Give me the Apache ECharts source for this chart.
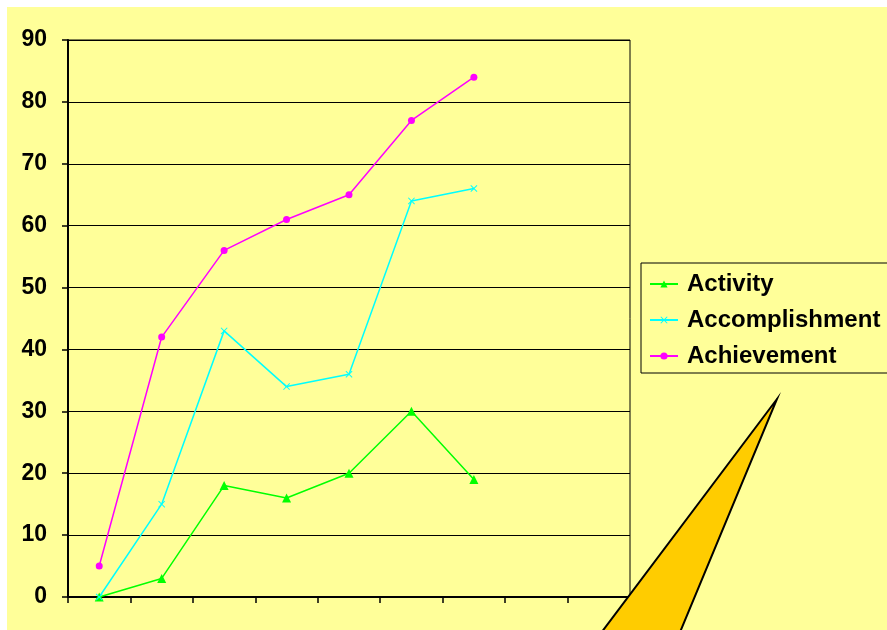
<!DOCTYPE html>
<html>
<head>
<meta charset="utf-8">
<script src="https://cdn.jsdelivr.net/npm/echarts@6/dist/echarts.min.js"></script>
<style>
  html, body { margin: 0; padding: 0; background: #fff; }
  #chart {
    width: 887px; height: 630px;
    background: linear-gradient(#FFFF99, #FFFF99) 7px 7px / 880px 623px no-repeat, #fff;
  }
</style>
</head>
<body>
<div id="chart"></div>
<script>
// Nine time slots on the category axis; only the first seven have scores so far
const categories = ['1', '2', '3', '4', '5', '6', '7', '8', '9'];
const activity = [0, 3, 18, 16, 20, 30, 19];
const accomplishment = [0, 15, 43, 34, 36, 64, 66];
const achievement = [5, 42, 56, 61, 65, 77, 84];
const yTicks = { min: 0, max: 90, interval: 10 };

const crossPath = 'path://M0,1L1,0L5,4L9,0L10,1L6,5L10,9L9,10L5,6L1,10L0,9L4,5Z';
const font = 'Liberation Sans, Arial, sans-serif';

const chart = echarts.init(document.getElementById('chart'), null, { renderer: 'canvas' });

function lineSeries(name, data, color, symbol, size) {
  return {
    name: name,
    type: 'line',
    data: data,
    symbol: symbol,
    symbolSize: size,
    showAllSymbol: true,
    lineStyle: { color: color, width: 1.5 },
    itemStyle: { color: color },
    emphasis: { disabled: true },
    animation: false
  };
}

chart.setOption({
  backgroundColor: 'transparent',
  animation: false,
  grid: {
    left: 68, right: 257, top: 40, bottom: 33,
    show: true, borderColor: '#000', borderWidth: 1
  },
  xAxis: {
    type: 'category',
    data: categories,
    boundaryGap: true,
    axisLine: { lineStyle: { color: '#000', width: 2 } },
    axisTick: { show: true, length: 6, lineStyle: { color: '#000', width: 1.5 } },
    axisLabel: { show: false },
    splitLine: { show: false }
  },
  yAxis: {
    type: 'value',
    min: yTicks.min, max: yTicks.max, interval: yTicks.interval,
    axisLine: { show: true, lineStyle: { color: '#000', width: 2 } },
    axisTick: { show: true, length: 6, lineStyle: { color: '#000', width: 1.5 } },
    axisLabel: { margin: 21, color: '#000', fontFamily: font, fontWeight: 'bold', fontSize: 23 },
    splitLine: { show: true, lineStyle: { color: '#000', width: 1 } }
  },
  legend: {
    orient: 'vertical',
    left: 641, top: 263,
    padding: [9, 10, 5, 8],
    itemWidth: 28, itemHeight: 9,
    itemGap: 12,
    borderColor: '#000', borderWidth: 1,
    backgroundColor: 'transparent',
    textStyle: { color: '#000', fontFamily: font, fontWeight: 'bold', fontSize: 24, padding: [0, 0, 0, 4] },
    data: ['Activity', 'Accomplishment', 'Achievement']
  },
  series: [
    lineSeries('Activity', activity, '#00FF00', 'triangle', 9),
    lineSeries('Accomplishment', accomplishment, '#00FFFF', crossPath, 7),
    lineSeries('Achievement', achievement, '#FF00FF', 'circle', 7)
  ],
  graphic: [{
    type: 'polygon',
    z: 100,
    silent: true,
    shape: { points: [[777, 399], [598, 637], [678, 637]] },
    style: { fill: '#FFCC00', stroke: '#000', lineWidth: 2, lineJoin: 'miter' }
  }]
});
</script>
</body>
</html>
